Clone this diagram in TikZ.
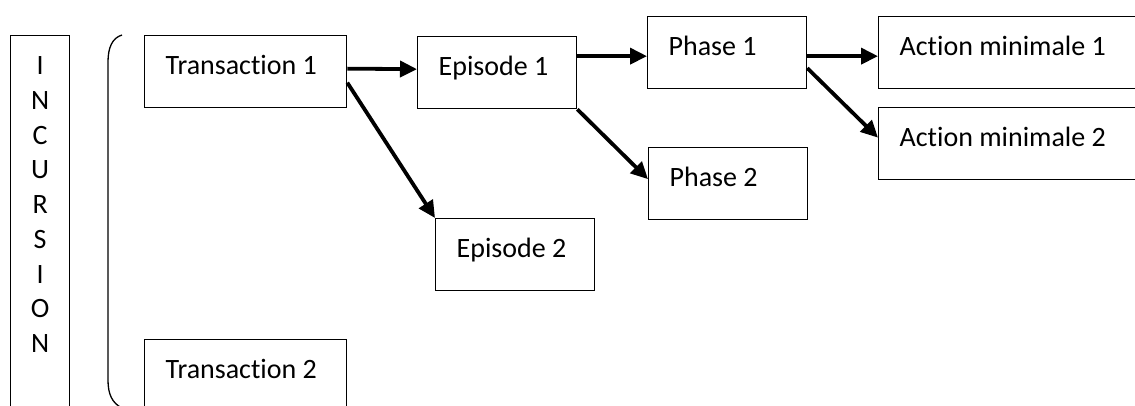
\documentclass[tikz,border=0pt]{standalone}
\usepackage{fontspec}
\setmainfont{Carlito}[Ligatures={NoCommon}]
\usetikzlibrary{arrows.meta}

\begin{document}
\begin{tikzpicture}[x=1pt, y=-1pt,
		box/.style={draw, line width=1.3pt, anchor=north west, inner xsep=21pt, inner ysep=0pt, text height=39pt, text depth=33pt, align=flush left, font=\fontsize{28pt}{34.75pt}\selectfont},
		transbox/.style={box, text width=160pt},
		stepbox/.style={box, text width=117pt},
		actionbox/.style={box, text width=240pt},
		arr/.style={line width=3.8pt, -{Triangle[length=17pt, width=16pt]}}]
		\clip (0, 0) rectangle (1135, 406);
		\node[draw, line width=1.3pt, anchor=north west, minimum width=59pt, inner sep=0pt, text height=317pt, text depth=100pt, align=center, font=\fontsize{28pt}{34.75pt}\selectfont] (incursion) at (10, 35) {I\\N\\C\\U\\R\\S\\I\\O\\N};
		\draw[line width=1.3pt] (122, 35) .. controls (112, 38) and (108, 48) .. (108, 62) -- (108, 380) .. controls (108, 394) and (112, 403) .. (122, 408);
		\node[transbox] (t1) at (144, 35) {Transaction 1};
		\node[transbox] (t2) at (144, 339) {Transaction 2};
		\node[stepbox] (e1) at (417, 36) {Episode 1};
		\node[stepbox] (e2) at (435, 218) {Episode 2};
		\node[stepbox] (p1) at (647, 16) {Phase 1};
		\node[stepbox] (p2) at (648, 147) {Phase 2};
		\node[actionbox] (a1) at (878, 16) {Action minimale 1};
		\node[actionbox] (a2) at (878, 107) {Action minimale 2};
		\draw[arr] ([yshift=3pt]t1.east) -- ([yshift=3.5pt]e1.west);
		\draw[arr] ([yshift=-11pt]t1.east) -- (e2.north west);
		\draw[arr] ([yshift=16.5pt]e1.east) -- ([yshift=-3.5pt]p1.west);
		\draw[arr] (e1.south east) -- ([yshift=4.5pt]p2.west);
		\draw[arr] ([yshift=-3.5pt]p1.east) -- ([yshift=-3.5pt]a1.west);
		\draw[arr] ([yshift=-15.5pt]p1.east) -- ([yshift=6pt]a2.west);
	\end{tikzpicture}
\end{document}
